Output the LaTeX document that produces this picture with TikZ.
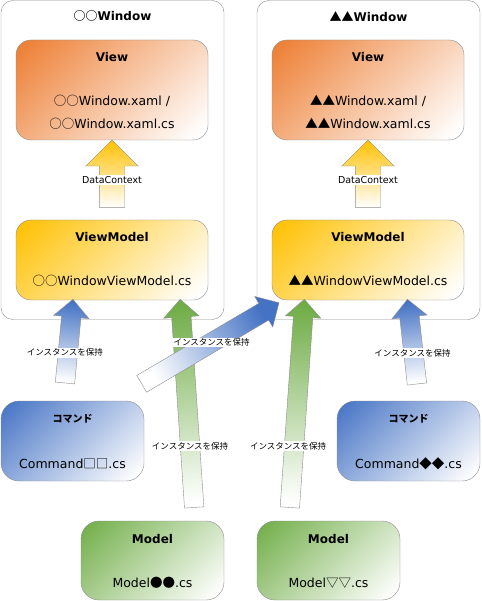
\documentclass[tikz,border=0pt]{standalone}
\usepackage{fontspec}
\setmainfont{DejaVu Sans}
\newfontfamily\jp{Noto Sans CJK JP}
\usetikzlibrary{shapes.arrows,calc}

\definecolor{viewcol}{HTML}{ED7D31}
\definecolor{vmcol}{HTML}{FFC000}
\definecolor{cmdcol}{HTML}{4472C4}
\definecolor{modelcol}{HTML}{70AD47}
\definecolor{edgecol}{HTML}{8C8C8C}

\pgfdeclareverticalshading{viewfade}{100bp}{color(0bp)=(white); color(18bp)=(white); color(85bp)=(viewcol); color(100bp)=(viewcol)}
\pgfdeclareverticalshading{vmfade}{100bp}{color(0bp)=(white); color(18bp)=(white); color(85bp)=(vmcol); color(100bp)=(vmcol)}
\pgfdeclareverticalshading{cmdfade}{100bp}{color(0bp)=(white); color(18bp)=(white); color(85bp)=(cmdcol); color(100bp)=(cmdcol)}
\pgfdeclareverticalshading{modelfade}{100bp}{color(0bp)=(white); color(18bp)=(white); color(85bp)=(modelcol); color(100bp)=(modelcol)}

\tikzset{
  window/.style={draw=edgecol, fill=white, rounded corners=12pt,
    minimum width=223pt, minimum height=319pt},
  part/.style={draw=edgecol, rounded corners=15pt, shade, shading=#1fade,
    shading angle=45, minimum width=192pt},
  title/.style={font=\fontsize{12}{14}\selectfont\bfseries},
  file/.style={font=\fontsize{12.5}{15}\selectfont},
  holdarrow/.style={single arrow, draw=edgecol, inner sep=0pt, inner ysep=9.5pt,
    single arrow head extend=8pt, single arrow tip angle=90,
    left color=white, right color=#1},
  holdlabel/.style={fill=white, inner sep=1pt, font=\jp\fontsize{8.5}{10}\selectfont},
}

\begin{document}
\begin{tikzpicture}[x=1pt, y=-1pt]
    \useasboundingbox (0,0) rectangle (481,601);
    \def\blockarrow#1#2#3{% name, colour, extra style
        \path let \p1=($(#1-tip)-(#1-tail)$), \n1={veclen(\x1,\y1)},
            \n2={atan2(\y1,\x1)}, \n3={90+\n2} in
            node[holdarrow=#2, minimum height=\n1, rotate=\n2, shading angle=\n3, #3] (#1)
            at ($(#1-tail)!.5!(#1-tip)$) {};}

    % windows
    \node[window] (winA) at (112.5, 160) {};
    \node[window] (winB) at (368.5, 160) {};
    \node[title] (winA-title) at ($(winA.north)+(0,16)$) {{\jp ○○}Window};
    \node[title] (winB-title) at ($(winB.north)+(0,16)$) {{\jp ▲▲}Window};

    % view and viewmodel
    \node[part=view, minimum height=100pt] (viewA) at (112, 90) {};
    \node[part=view, minimum height=100pt] (viewB) at (368, 90) {};
    \node[part=vm, minimum height=80pt] (vmA) at (112, 260) {};
    \node[part=vm, minimum height=80pt] (vmB) at (368, 260) {};

    \foreach \w/\s in {A/○○, B/▲▲} {
        \node[title] (view\w-title) at ($(view\w.north)+(0,17)$) {View};
        \node[file] (view\w-xaml) at ($(view\w.north)+(0,61)$) {{\jp \s}Window.xaml /};
        \node[file] (view\w-cs) at ($(view\w.north)+(0,84)$) {{\jp \s}Window.xaml.cs};
        \node[title] (vm\w-title) at ($(vm\w.north)+(0,17)$) {ViewModel};
        \node[file] (vm\w-cs) at ($(vm\w.north)+(0,61)$) {{\jp \s}WindowViewModel.cs};
        \coordinate (dc\w-tail) at ($(vm\w.north)+(0,-6)$);
        \coordinate (dc\w-tip) at ($(view\w.south)+(0,6)$);
        \blockarrow{dc\w}{vmcol}{inner ysep=12.5pt, single arrow head extend=13.5pt}
        \node[holdlabel, font=\fontsize{9.5}{10}\selectfont] (dc\w-text)
            at ($(dc\w-tail)!.5!(dc\w-tip)$) {DataContext};
    }

    % commands and models
    \node[part=cmd, minimum width=143pt, minimum height=80pt, rounded corners=18pt]
        (cmdA) at (72.5, 441) {};
    \node[part=cmd, minimum width=143pt, minimum height=80pt, rounded corners=18pt]
        (cmdB) at (408.5, 441) {};
    \node[part=model, minimum width=143pt, minimum height=79pt, rounded corners=18pt]
        (modelA) at (152.5, 560.5) {};
    \node[part=model, minimum width=143pt, minimum height=79pt, rounded corners=18pt]
        (modelB) at (328.5, 560.5) {};

    \foreach \c/\s in {A/□□, B/◆◆} {
        \node[title, font=\jp\bfseries] (cmd\c-title) at ($(cmd\c.north)+(0,18)$) {コマンド};
        \node[file] (cmd\c-cs) at ($(cmd\c.north)+(0,63)$) {Command{\jp \s}.cs};
    }
    \foreach \m/\s in {A/●●, B/▽▽} {
        \node[title] (model\m-title) at ($(model\m.north)+(0,18)$) {Model};
        \node[file] (model\m-cs) at ($(model\m.north)+(0,62)$) {Model{\jp \s}.cs};
    }

    % holding arrows
    \coordinate (holdA-tail) at ($(cmdA.north)+(-8,-13)$);
    \coordinate (holdA-tip) at ($(winA.south)+(-40,-15.5)$);
    \coordinate (holdB-tail) at ($(cmdA.north)+(65,-14.5)$);
    \coordinate (holdB-tip) at ($(winB.south west)+(18,-14.5)$);
    \coordinate (holdC-tail) at ($(cmdB.north)+(9,-12)$);
    \coordinate (holdC-tip) at ($(winB.south)+(39.5,-15.5)$);
    \coordinate (holdD-tail) at ($(modelA.north)+(42,-8.5)$);
    \coordinate (holdD-tip) at ($(winA.south)+(68,-15.5)$);
    \coordinate (holdE-tail) at ($(modelB.north)+(-39,-8.5)$);
    \coordinate (holdE-tip) at ($(winB.south)+(-64.5,-15.5)$);

    \foreach \h/\col in {holdD/modelcol, holdE/modelcol, holdA/cmdcol, holdB/cmdcol, holdC/cmdcol}
        \blockarrow{\h}{\col}{};

    \foreach \h/\t/\dx in {holdA/.42/-3, holdB/.54/0, holdC/.42/-1, holdD/.317/0, holdE/.317/-6}
        \node[holdlabel, xshift=\dx pt] (\h-text) at ($(\h-tail)!\t!(\h-tip)$) {インスタンスを保持};
\end{tikzpicture}
\end{document}
